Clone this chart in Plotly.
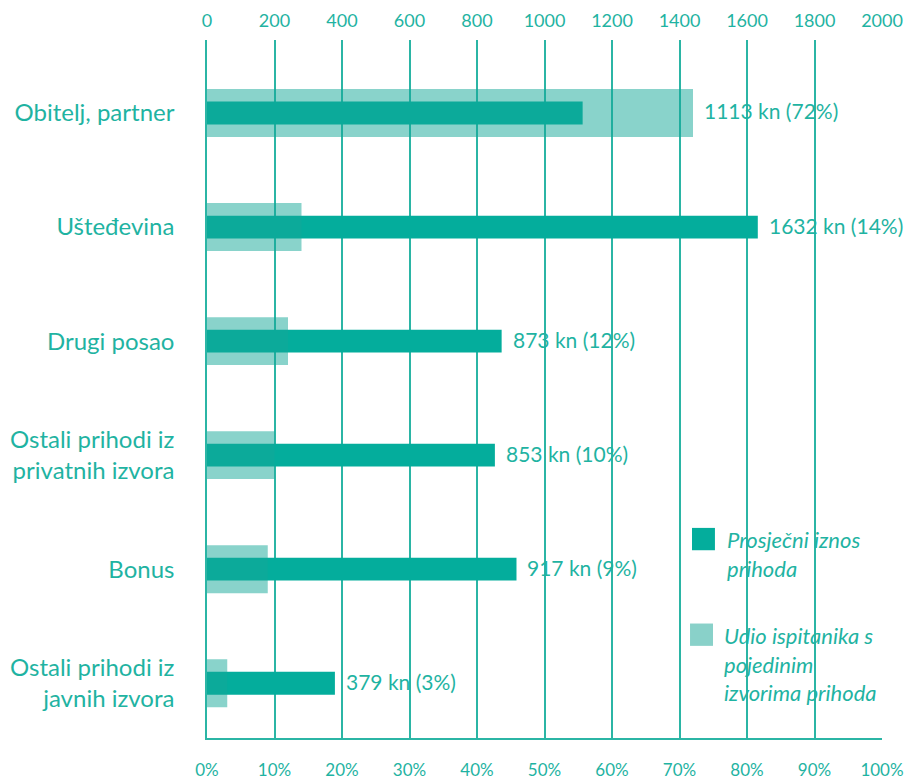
import plotly.graph_objects as go

# data
categories = ["Obitelj, partner", "Ušteđevina", "Drugi posao",
              "Ostali prihodi iz<br>privatnih izvora", "Bonus",
              "Ostali prihodi iz<br>javnih izvora"]
avg_amount = [1113, 1632, 873, 853, 917, 379]   # kn
share_pct = [72, 14, 12, 10, 9, 3]              # %
legend_names = ["Prosječni iznos<br>prihoda",
                "Udio ispitanika s<br>pojedinim<br>izvorima prihoda"]

TEAL = "#04ad9c"
LIGHT = "rgba(20,168,152,0.5)"
LIGHT_SOLID = "#89d1c9"
TEXT = "#1fb3a2"
GRID = "#2bb5a5"
FONT = "Lato"

fig = go.Figure()

# share of respondents (light, wide bars) on the percent axis
fig.add_trace(go.Bar(
    y=categories, x=share_pct, orientation="h",
    xaxis="x2", width=0.42,
    marker=dict(color=LIGHT, line=dict(width=0)),
    name=legend_names[1], hoverinfo="x+y",
))

# average income (dark, narrow bars) on the kn axis
fig.add_trace(go.Bar(
    y=categories, x=avg_amount, orientation="h",
    xaxis="x", width=0.2,
    marker=dict(color=TEAL, line=dict(width=0)),
    name=legend_names[0], hoverinfo="x+y",
))

# value labels after the longer of the two bars
for cat, kn, pct in zip(categories, avg_amount, share_pct):
    fig.add_annotation(
        x=max(kn, pct * 20), y=cat, xref="x", yref="y",
        text=f"{kn} kn ({pct}%)", showarrow=False,
        xanchor="left", xshift=9, yshift=2,
        font=dict(family=FONT, size=21, color=TEXT),
    )

# hand-made legend (bigger squares than plotly's own)
legend_spots = [(0.7185, 0.301, 0.767, 0.306), (0.7156, 0.164, 0.763, 0.169)]
for name, col, (sx, sy, tx, ty) in zip(legend_names, [TEAL, LIGHT_SOLID], legend_spots):
    fig.add_shape(type="rect", xref="paper", yref="paper",
                  x0=sx, x1=sx + 0.034, y0=sy - 0.032, y1=sy,
                  fillcolor=col, line=dict(width=0))
    fig.add_annotation(
        x=tx, y=ty, xref="paper", yref="paper",
        text=name, showarrow=False, xanchor="left", yanchor="top",
        align="left",
        font=dict(family=FONT, size=22, color=TEXT, style="italic"),
    )

fig.update_layout(
    width=910, height=775,
    margin=dict(l=199, r=36, t=32, b=45),
    plot_bgcolor="white", paper_bgcolor="white",
    font=dict(family=FONT, color=TEXT),
    showlegend=False,
    xaxis=dict(
        side="top", range=[0, 2000], dtick=200,
        showgrid=True, gridcolor=GRID, gridwidth=1.5,
        zeroline=False, showline=False,
        tickfont=dict(family=FONT, size=18, color=TEXT),
        ticklabelstandoff=8, automargin=False,
    ),
    xaxis2=dict(
        side="bottom", overlaying="x", range=[0, 100], dtick=10,
        ticksuffix="%", showgrid=False, zeroline=False,
        showline=True, linecolor=GRID, linewidth=1.5,
        tickfont=dict(family=FONT, size=17, color=TEXT),
        ticklabelstandoff=16, automargin=False,
    ),
    yaxis=dict(
        range=[5.48, -0.64], showgrid=False, zeroline=False,
        showline=True, linecolor=GRID, linewidth=1.5,
        tickfont=dict(family=FONT, size=24, color=TEXT),
        ticklabelstandoff=26, automargin=False,
    ),
)

fig.write_html("out.html")
